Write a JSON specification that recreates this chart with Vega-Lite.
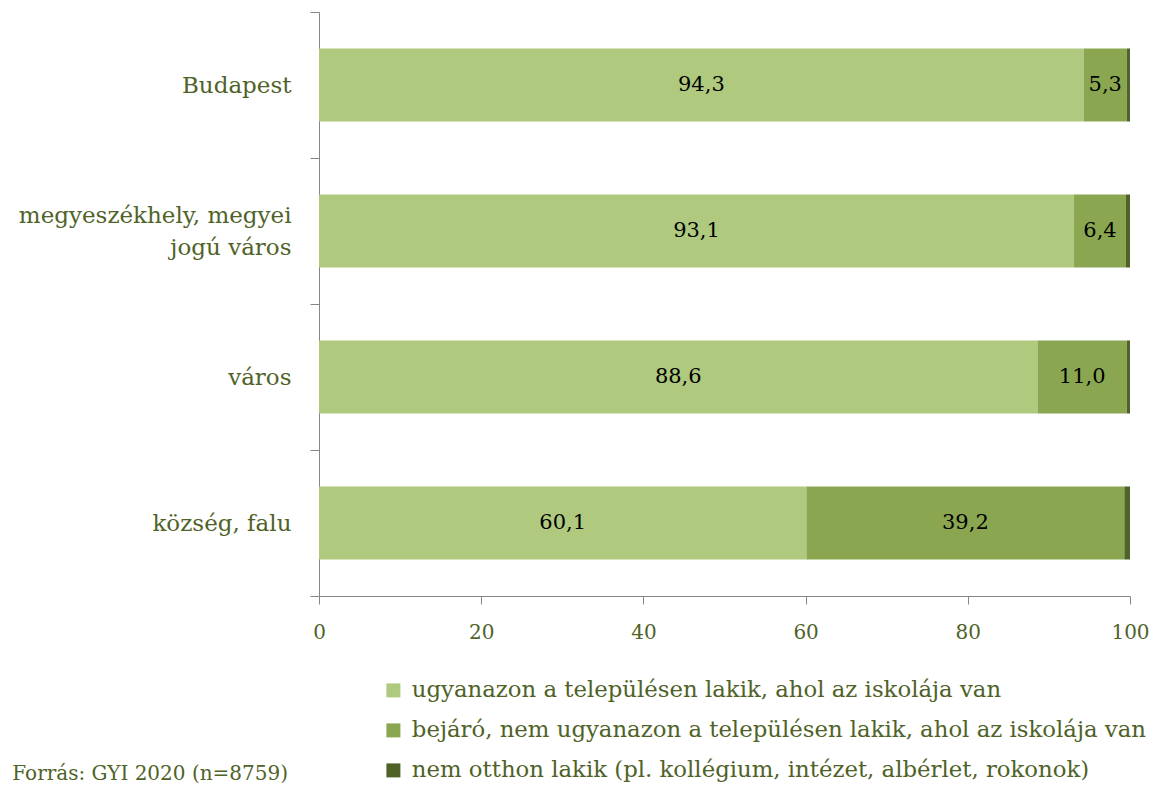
{
  "$schema": "https://vega.github.io/schema/vega-lite/v6.json",
  "width": 811,
  "height": 584,
  "autosize": {"type": "none"},
  "padding": {"left": 319, "top": 12, "right": 23, "bottom": 189},
  "config": {
    "font": "DejaVu Serif",
    "view": {"stroke": null},
    "locale": {"number": {"decimal": ",", "thousands": " ", "grouping": [3], "currency": ["", " Ft"]}}
  },
  "title": {
    "text": "Forrás: GYI 2020 (n=8759)",
    "orient": "bottom",
    "anchor": "start",
    "frame": "bounds",
    "fontSize": 20,
    "fontWeight": "normal",
    "color": "#4F6228",
    "dy": -23,
    "dx": -6
  },
  "data": {
    "values": [
      {"cat": "Budapest", "k": 1, "type": "ugyanazon a településen lakik, ahol az iskolája van", "value": 94.3},
      {"cat": "Budapest", "k": 2, "type": "bejáró, nem ugyanazon a településen lakik, ahol az iskolája van", "value": 5.3},
      {"cat": "Budapest", "k": 3, "type": "nem otthon lakik (pl. kollégium, intézet, albérlet, rokonok)", "value": 0.4},
      {"cat": "megyeszékhely, megyei jogú város", "k": 1, "type": "ugyanazon a településen lakik, ahol az iskolája van", "value": 93.1},
      {"cat": "megyeszékhely, megyei jogú város", "k": 2, "type": "bejáró, nem ugyanazon a településen lakik, ahol az iskolája van", "value": 6.4},
      {"cat": "megyeszékhely, megyei jogú város", "k": 3, "type": "nem otthon lakik (pl. kollégium, intézet, albérlet, rokonok)", "value": 0.5},
      {"cat": "város", "k": 1, "type": "ugyanazon a településen lakik, ahol az iskolája van", "value": 88.6},
      {"cat": "város", "k": 2, "type": "bejáró, nem ugyanazon a településen lakik, ahol az iskolája van", "value": 11.0},
      {"cat": "város", "k": 3, "type": "nem otthon lakik (pl. kollégium, intézet, albérlet, rokonok)", "value": 0.4},
      {"cat": "község, falu", "k": 1, "type": "ugyanazon a településen lakik, ahol az iskolája van", "value": 60.1},
      {"cat": "község, falu", "k": 2, "type": "bejáró, nem ugyanazon a településen lakik, ahol az iskolája van", "value": 39.2},
      {"cat": "község, falu", "k": 3, "type": "nem otthon lakik (pl. kollégium, intézet, albérlet, rokonok)", "value": 0.7}
    ]
  },
  "transform": [
    {"stack": "value", "groupby": ["cat"], "sort": [{"field": "k", "order": "ascending"}], "as": ["v0", "v1"]},
    {"calculate": "(datum.v0 + datum.v1) / 2", "as": "mid"}
  ],
  "encoding": {
    "y": {
      "field": "cat",
      "type": "nominal",
      "sort": ["Budapest", "megyeszékhely, megyei jogú város", "város", "község, falu"],
      "scale": {"paddingInner": 0, "paddingOuter": 0},
      "axis": {
        "title": null,
        "domainColor": "#868686",
        "tickColor": "#868686",
        "tickSize": 9,
        "tickBand": "extent",
        "labelFontSize": 23,
        "labelColor": "#4F6228",
        "labelPadding": 19,
        "labelLimit": 400,
        "labelLineHeight": 32,
        "labelOffset": {"condition": {"test": "datum.value == 'megyeszékhely, megyei jogú város'", "value": -16}, "value": 0},
        "labelExpr": "datum.label == 'megyeszékhely, megyei jogú város' ? ['megyeszékhely, megyei', 'jogú város'] : datum.label"
      }
    }
  },
  "layer": [
    {
      "mark": {"type": "bar", "height": {"band": 0.5}},
      "encoding": {
        "x": {
          "field": "v0",
          "type": "quantitative",
          "scale": {"domain": [0, 100], "nice": false},
          "axis": {
            "title": null,
            "values": [0, 20, 40, 60, 80, 100],
            "grid": false,
            "domainColor": "#868686",
            "tickColor": "#868686",
            "tickSize": 8,
            "labelFontSize": 20,
            "labelColor": "#4F6228",
            "labelPadding": 18,
            "labelFlush": false
          }
        },
        "x2": {"field": "v1"},
        "color": {
          "field": "type",
          "type": "nominal",
          "scale": {
            "domain": [
              "ugyanazon a településen lakik, ahol az iskolája van",
              "bejáró, nem ugyanazon a településen lakik, ahol az iskolája van",
              "nem otthon lakik (pl. kollégium, intézet, albérlet, rokonok)"
            ],
            "range": ["#AFC97E", "#8AA650", "#4F6228"]
          },
          "legend": {
            "title": null,
            "orient": "none",
            "legendX": 63,
            "legendY": 667,
            "direction": "vertical",
            "symbolType": "square",
            "symbolSize": 196,
            "symbolStrokeWidth": 0,
            "labelFontSize": 22.8,
            "labelColor": "#4F6228",
            "labelLimit": 1000,
            "labelOffset": 7,
            "rowPadding": 16
          }
        }
      }
    },
    {
      "transform": [{"filter": "datum.k < 3"}],
      "mark": {"type": "text", "fontSize": 21, "color": "black"},
      "encoding": {
        "x": {"field": "mid", "type": "quantitative"},
        "text": {"field": "value", "type": "quantitative", "format": ".1f"}
      }
    }
  ]
}
